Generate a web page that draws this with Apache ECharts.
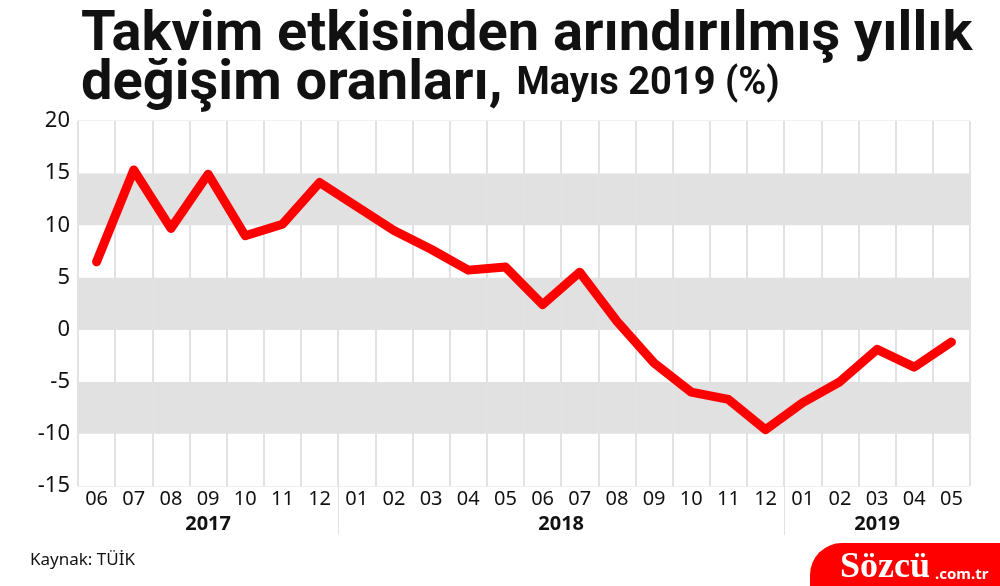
<!DOCTYPE html>
<html>
<head>
<meta charset="utf-8">
<script src="https://cdn.jsdelivr.net/npm/echarts@6/dist/echarts.min.js"></script>
<style>html,body{margin:0;padding:0;background:#fff}#c{width:1000px;height:586px}</style>
</head>
<body>
<div id="c"></div>
<script>
var months = ['06','07','08','09','10','11','12','01','02','03','04','05','06','07','08','09','10','11','12','01','02','03','04','05'];
var years = ['2017','2017','2017','2017','2017','2017','2017','2018','2018','2018','2018','2018','2018','2018','2018','2018','2018','2018','2018','2019','2019','2019','2019','2019'];
var values = [6.5, 15.3, 9.7, 14.9, 9.0, 10.1, 14.1, 11.8, 9.5, 7.7, 5.7, 6.0, 2.4, 5.5, 0.8, -3.2, -6.0, -6.7, -9.6, -7.0, -5.0, -1.9, -3.6, -1.2];
var yTicks = [-15, -10, -5, 0, 5, 10, 15, 20];

// year group spans derived from the years list
var yearNames = [], yearCenters = [], yearBreaks = [];
(function () {
  var start = 0;
  for (var i = 1; i <= years.length; i++) {
    if (i === years.length || years[i] !== years[start]) {
      yearNames.push(years[start]);
      yearCenters.push((start + i) / 2);
      if (i < years.length) yearBreaks.push(i);
      start = i;
    }
  }
})();

var chart = echarts.init(document.getElementById('c'));
var gridColor = '#e2e2e2';
var tf = 'Liberation Sans Narrow, Roboto, sans-serif';
chart.setOption({
  animation: false,
  title: {
    left: 76, top: 6,
    text: 'Takvim etkisinden arındırılmış yıllık\n{b|değişim oranları,} {s|Mayıs 2019 (%)}',
    textStyle: {
      fontFamily: tf, fontWeight: 'bold', fontSize: 56, lineHeight: 49, color: '#111',
      rich: {
        b: {fontFamily: tf, fontWeight: 'bold', fontSize: 56, lineHeight: 49, color: '#111'},
        s: {fontFamily: tf, fontWeight: 'bold', fontSize: 38, lineHeight: 49, color: '#111'}
      }
    }
  },
  grid: {left: 78, right: 30, top: 121, bottom: 100, show: true, borderColor: gridColor, borderWidth: 1},
  xAxis: [{
    type: 'category', data: months, boundaryGap: true,
    axisLine: {lineStyle: {color: gridColor}},
    axisTick: {show: false},
    splitLine: {show: true, lineStyle: {color: gridColor, width: 2}},
    axisLabel: {fontFamily: 'Noto Sans', fontSize: 20, color: '#111', margin: 3, interval: 0}
  }, {
    type: 'value', position: 'bottom', min: 0, max: months.length,
    axisLine: {show: false}, splitLine: {show: false},
    axisTick: {show: true, customValues: yearBreaks, length: 49, lineStyle: {color: gridColor, width: 1}},
    axisLabel: {
      customValues: yearCenters, margin: 28,
      fontFamily: 'Noto Sans', fontWeight: 'bold', fontSize: 20, color: '#111',
      formatter: function (v) { var k = yearCenters.indexOf(v); return k >= 0 ? yearNames[k] : ''; }
    }
  }],
  yAxis: {
    type: 'value', min: yTicks[0], max: yTicks[yTicks.length - 1], interval: 5,
    axisLine: {show: true, lineStyle: {color: gridColor}},
    axisTick: {show: false},
    splitLine: {show: false},
    splitArea: {show: true, areaStyle: {color: ['#ffffff', '#e1e1e1']}},
    axisLabel: {fontFamily: 'Noto Sans', fontSize: 22, color: '#111', margin: 8}
  },
  series: [{
    type: 'line', data: values, xAxisIndex: 0, showSymbol: false, symbol: 'none',
    lineStyle: {color: '#ff0000', width: 9, cap: 'round', join: 'round'}
  }],
  graphic: [
    {type: 'text', left: 30, top: 552, style: {text: 'Kaynak: TÜİK', fontFamily: 'Noto Sans', fontSize: 17, fill: '#111'}},
    {type: 'rect', left: 810, top: 543, shape: {width: 220, height: 60, r: [32, 0, 0, 0]}, style: {fill: '#ff0000'}},
    {type: 'text', x: 840, y: 586, style: {text: 'Sözcü', fontFamily: 'Liberation Serif', fontWeight: 'bold', fontSize: 36, fill: '#fff', verticalAlign: 'bottom', align: 'left'}},
    {type: 'text', x: 935, y: 582, style: {text: '.com.tr', fontFamily: 'Noto Sans', fontWeight: 'bold', fontSize: 15, fill: '#fff', verticalAlign: 'bottom', align: 'left'}}
  ]
});
</script>
</body>
</html>
